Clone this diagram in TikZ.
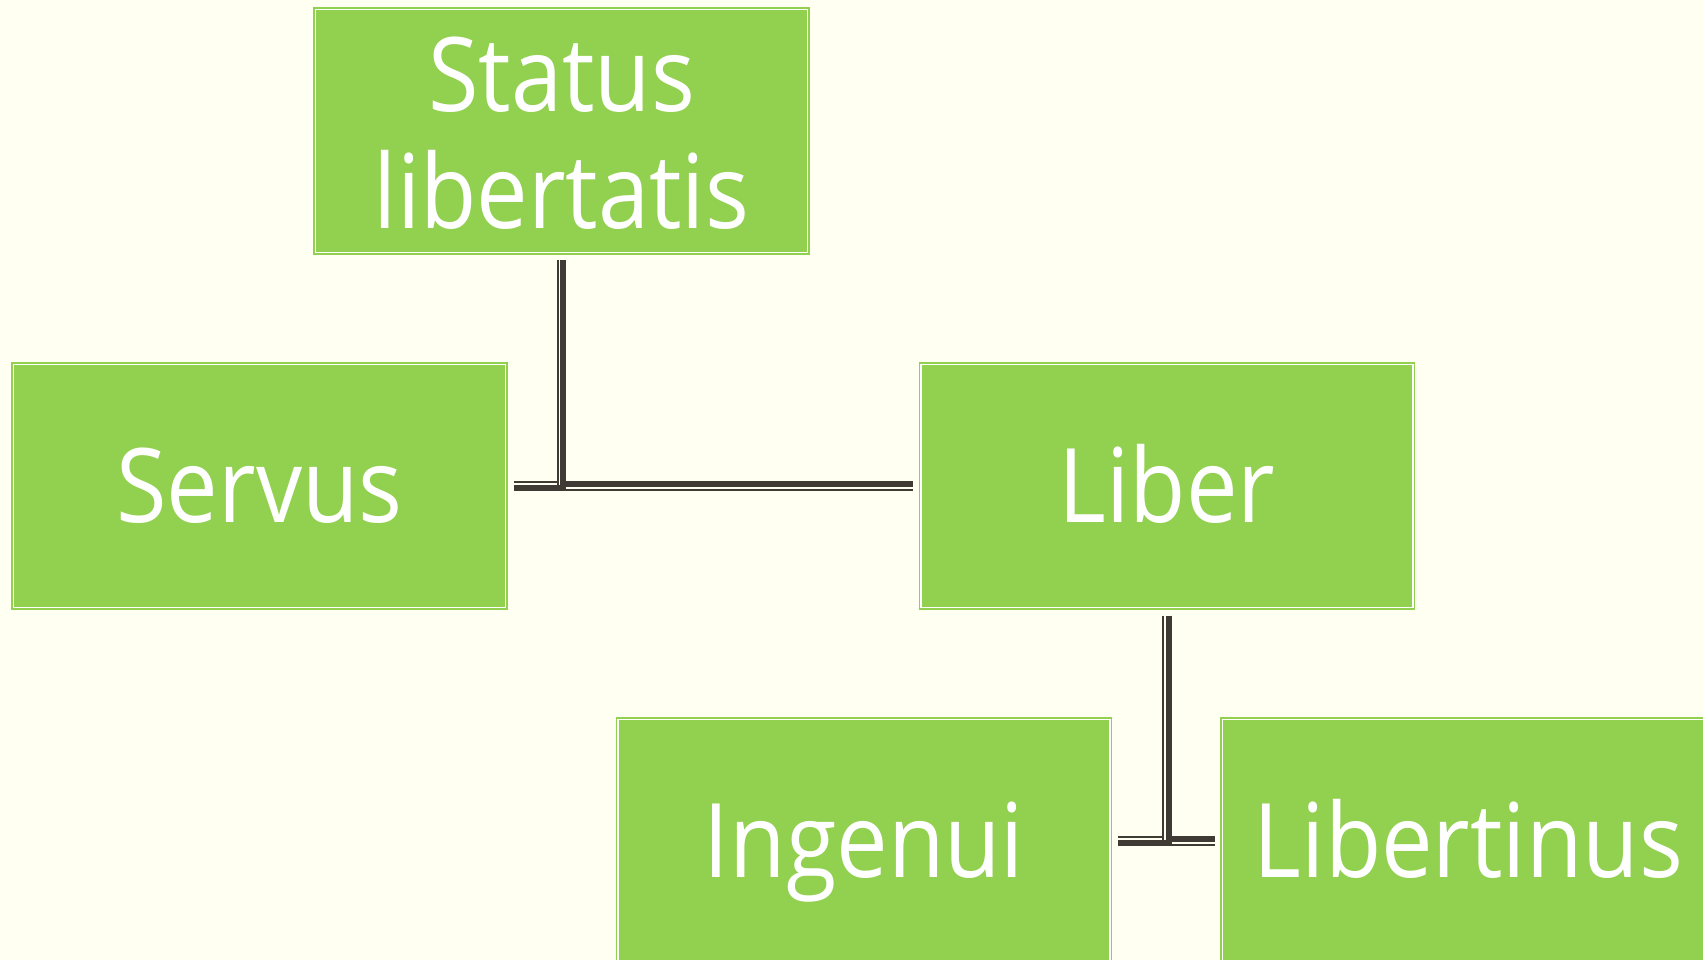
\documentclass[tikz,border=0pt]{standalone}
\usepackage{fontspec}
\setmainfont{Open Sans}[FakeStretch=0.893]
\usepackage{tikz}
\usepackage{xcolor}
\usetikzlibrary{positioning}
\definecolor{paper}{HTML}{FFFFF2}
\definecolor{boxgreen}{HTML}{92D050}
\definecolor{linkbrown}{HTML}{403A35}
\newcommand{\boxfont}{\fontsize{103}{117}\selectfont}

\begin{document}
\begin{tikzpicture}[x=1pt,y=1pt,
  latbox/.style={rectangle, fill=boxgreen, draw=boxgreen, double=white,
    double distance=1.6pt, line width=1.3pt, minimum width=492pt,
    minimum height=243pt, inner sep=0pt, outer sep=0pt, text=white,
    align=center, font=\boxfont, text height=72pt, text depth=0pt},
  linkthick/.style={draw=linkbrown, line width=6pt},
  linkthin/.style={draw=linkbrown, line width=1.7pt}]
\useasboundingbox (0,0) rectangle (1703,-960);
\fill[paper] (0,0) rectangle (1703,-960);
\clip (0,0) rectangle (1703,-960);

\node[latbox, text height=196pt, text depth=0pt] (status) at (561.5,-131) {Status\\libertatis};
\node[latbox] (servus) at (259.5,-486) {Servus};
\node[latbox] (liber) at (1167,-486) {Liber};
\node[latbox] (ingenui) at (864,-841) {Ingenui};
\node[latbox] (libertinus) at (1468.5,-841) {Libertinus};

% status -> servus / liber
\draw[linkthick] ([xshift=1.8pt,yshift=-8pt]status.south) |- ([xshift=8pt,yshift=-1.8pt]servus.east);
\draw[linkthin] ([xshift=-3.8pt,yshift=-8pt]status.south) |- ([xshift=8pt,yshift=3.8pt]servus.east);
\draw[linkthick] ([xshift=1.8pt,yshift=-8pt]status.south) |- ([xshift=-8pt,yshift=1.8pt]liber.west);
\draw[linkthin] ([xshift=-3.8pt,yshift=-8pt]status.south) |- ([xshift=-8pt,yshift=-3.8pt]liber.west);

% liber -> ingenui / libertinus
\draw[linkthick] ([xshift=1.8pt,yshift=-8pt]liber.south) |- ([xshift=8pt,yshift=-1.8pt]ingenui.east);
\draw[linkthin] ([xshift=-3.8pt,yshift=-8pt]liber.south) |- ([xshift=8pt,yshift=3.8pt]ingenui.east);
\draw[linkthick] ([xshift=1.8pt,yshift=-8pt]liber.south) |- ([xshift=-8pt,yshift=1.8pt]libertinus.west);
\draw[linkthin] ([xshift=-3.8pt,yshift=-8pt]liber.south) |- ([xshift=-8pt,yshift=-3.8pt]libertinus.west);
\end{tikzpicture}
\end{document}
